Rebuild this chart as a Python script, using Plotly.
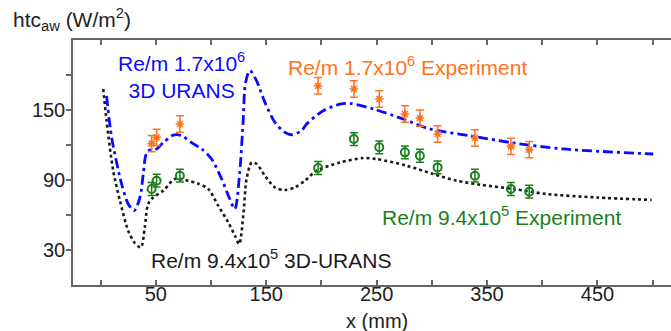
import plotly.graph_objects as go

# 3D URANS, Re/m 1.7x10^6
urans_hi_x = [5.4, 10, 19, 25, 30.4, 35.6, 38.6, 40.8, 43, 50.7, 56.7, 65.8, 73.4, 82.4, 91.5,
              100.5, 109.6, 117, 121.6, 126, 129, 131.3, 135.2, 141.3, 148.8, 157.9, 166.9,
              173, 182, 186.6, 201.6, 216.8, 225.7, 247, 274, 298.3, 334.5, 370.7, 419, 500.5]
urans_hi_y = [162, 126.5, 86.6, 69.4, 63.7, 75, 95, 110.8, 115, 116.6, 122, 128.5, 128, 122, 116.6,
              108, 90.9, 73.7, 65.1, 96.5, 139, 173.6, 183.7, 175, 156.5, 139.4, 130.8,
              128.8, 132.3, 138, 149.4, 155, 155.7, 150.9, 142.3, 133.7, 128, 122.2, 116.6, 112.3]

# 3D URANS, Re/m 9.4x10^5
urans_lo_x = [2.4, 5.4, 11.4, 17.5, 25, 31, 36.5, 40, 43, 47.6, 56.7, 67.3, 79.3, 88, 97.5,
              106.5, 115.6, 121.6, 125.5, 129.2, 132.2, 136.8, 141.3, 148.8, 157.9, 166.9,
              176, 185, 195.7, 216.8, 237.9, 250, 277.2, 301.3, 322.5, 343.6, 373.7, 404,
              449.3, 499]
urans_lo_y = [168, 140.8, 98, 72.3, 46.5, 36, 32.2, 49.4, 69.4, 75, 80.8, 90.9, 89.4, 87, 82.3,
              68, 53.7, 42.3, 35.1, 59.4, 90.9, 105, 103.7, 93.7, 83.7, 81.4,
              83.7, 89.4, 98, 105, 108.8, 108, 102.3, 95.1, 89.4, 86, 82.3, 78,
              75, 72.9]

# Experiments
exp_x = [46.2, 50.7, 71.8, 197, 229.4, 252.4, 275.6, 289.2, 305.2, 339, 371.6, 388.2]
exp_hi_y = [121.2, 126.5, 138, 170.8, 168, 159.4, 146.6, 143.1, 129.4, 126, 118.8, 116]
exp_hi_err = [7, 7, 7, 7, 7, 7, 7, 7, 7, 7, 7, 7]
exp_lo_y = [82.3, 89.4, 93.7, 100.3, 125.1, 118, 113.7, 110.8, 100.8, 93.7, 82.3, 80]
exp_lo_err = [5.5, 5.5, 5.5, 5.5, 5.5, 5.5, 5.5, 5.5, 5.5, 5.5, 5.5, 5.5]

x_ticks = [0, 50, 100, 150, 200, 250, 300, 350, 400, 450, 500]
x_labels = ["", "50", "", "150", "", "250", "", "350", "", "450", ""]
y_ticks = [30, 60, 90, 120, 150, 180]
y_labels = ["30", "", "90", "", "150", ""]

BLUE = "#0a0aff"
ORANGE = "#ff7320"
GREEN = "#1a7f1a"
BLACK = "#1a1a1a"
FONT = "Liberation Sans, Arial, sans-serif"
TXT = 21

fig = go.Figure()
fig.add_trace(go.Scatter(x=urans_lo_x, y=urans_lo_y, mode="lines",
                         line=dict(color=BLACK, width=2.6, dash="dot", shape="spline", smoothing=0.8)))
fig.add_trace(go.Scatter(x=urans_hi_x, y=urans_hi_y, mode="lines",
                         line=dict(color=BLUE, width=2.8, dash="10px,4px,3px,4px",
                                   shape="spline", smoothing=0.8)))
fig.add_trace(go.Scatter(x=exp_x, y=exp_hi_y, mode="markers",
                         marker=dict(symbol="asterisk-open", size=7, color=ORANGE,
                                     line=dict(color=ORANGE, width=1.6)),
                         error_y=dict(type="data", array=exp_hi_err, color=ORANGE,
                                      thickness=1.5, width=4)))
fig.add_trace(go.Scatter(x=exp_x, y=exp_lo_y, mode="markers",
                         marker=dict(symbol="circle-open", size=8, color=GREEN,
                                     line=dict(color=GREEN, width=2)),
                         error_y=dict(type="data", array=exp_lo_err, color=GREEN,
                                      thickness=1.5, width=4)))

ann = [
    dict(x=73, y=179.5, text="Re/m 1.7x10<sup>6</sup><br>3D URANS", font=dict(color=BLUE, size=TXT)),
    dict(x=277.5, y=188, text="Re/m 1.7x10<sup>6</sup> Experiment", font=dict(color=ORANGE, size=TXT)),
    dict(x=363.5, y=59.4, text="Re/m 9.4x10<sup>5</sup> Experiment", font=dict(color=GREEN, size=TXT)),
    dict(x=154.3, y=22.5, text="Re/m 9.4x10<sup>5</sup> 3D-URANS", font=dict(color=BLACK, size=TXT)),
]
for a in ann:
    fig.add_annotation(xref="x", yref="y", showarrow=False, xanchor="center", yanchor="middle",
                       align="center", **a)
fig.add_annotation(xref="paper", yref="paper", x=-0.103, y=1.085, xanchor="left", yanchor="middle",
                   showarrow=False, text="htc<sub>aw</sub> (W/m<sup>2</sup>)",
                   font=dict(color="#222", size=TXT))
fig.add_annotation(xref="x", yref="paper", x=250, y=-0.146, xanchor="center", yanchor="middle",
                   showarrow=False, text="x (mm)", font=dict(color="#222", size=20))

axis_line = "#666666"
fig.update_layout(
    width=671, height=331,
    margin=dict(l=73, r=0, t=40, b=46),
    paper_bgcolor="white", plot_bgcolor="white",
    showlegend=False,
    font=dict(family=FONT, size=20, color="#222"),
    xaxis=dict(range=[-25, 516.6], tickmode="array", tickvals=x_ticks, ticktext=x_labels,
               ticks="inside", ticklen=5, tickwidth=1.5, tickcolor=axis_line,
               ticklabelstandoff=-10,
               showline=True, linecolor=axis_line, linewidth=1.5, mirror="ticks",
               showgrid=False, zeroline=False),
    yaxis=dict(range=[0, 210], tickmode="array", tickvals=y_ticks, ticktext=y_labels,
               ticks="outside", ticklen=5, tickwidth=1.5, tickcolor=axis_line,
               ticklabelstandoff=-3,
               showline=True, linecolor=axis_line, linewidth=1.5,
               showgrid=False, zeroline=False),
)

fig.write_html("out.html")
